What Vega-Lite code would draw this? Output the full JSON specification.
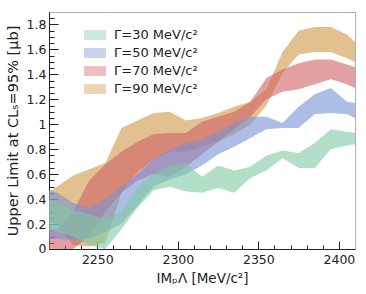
{
  "$schema": "https://vega.github.io/schema/vega-lite/v6.json",
  "width": 306,
  "height": 237,
  "autosize": {"type": "none"},
  "padding": {"left": 49, "top": 12, "right": 11, "bottom": 45},
  "config": {
    "font": "DejaVu Sans",
    "view": {"stroke": "#b0b0b0", "strokeWidth": 1},
    "axis": {"grid": false, "domainColor": "#222", "tickColor": "#222", "labelColor": "#222", "titleColor": "#222", "labelFontSize": 12.5, "titleFontSize": 13.5, "titleFontWeight": "normal", "labelFont": "DejaVu Sans", "titleFont": "DejaVu Sans"}
  },
  "datasets": {
    "bands": [
      {"g": "Γ=90 MeV/c²", "x": 2220, "lo": 0.22, "hi": 0.46},
      {"g": "Γ=90 MeV/c²", "x": 2225, "lo": 0.20, "hi": 0.50},
      {"g": "Γ=90 MeV/c²", "x": 2235, "lo": 0.03, "hi": 0.59},
      {"g": "Γ=90 MeV/c²", "x": 2245, "lo": 0.02, "hi": 0.64},
      {"g": "Γ=90 MeV/c²", "x": 2255, "lo": 0.05, "hi": 0.69},
      {"g": "Γ=90 MeV/c²", "x": 2265, "lo": 0.45, "hi": 0.97},
      {"g": "Γ=90 MeV/c²", "x": 2275, "lo": 0.62, "hi": 1.03},
      {"g": "Γ=90 MeV/c²", "x": 2285, "lo": 0.72, "hi": 1.09},
      {"g": "Γ=90 MeV/c²", "x": 2295, "lo": 0.78, "hi": 1.10},
      {"g": "Γ=90 MeV/c²", "x": 2305, "lo": 0.78, "hi": 1.03},
      {"g": "Γ=90 MeV/c²", "x": 2315, "lo": 0.82, "hi": 1.05},
      {"g": "Γ=90 MeV/c²", "x": 2325, "lo": 0.86, "hi": 1.09},
      {"g": "Γ=90 MeV/c²", "x": 2335, "lo": 0.92, "hi": 1.14},
      {"g": "Γ=90 MeV/c²", "x": 2345, "lo": 1.00, "hi": 1.18},
      {"g": "Γ=90 MeV/c²", "x": 2355, "lo": 1.15, "hi": 1.28},
      {"g": "Γ=90 MeV/c²", "x": 2365, "lo": 1.41, "hi": 1.58},
      {"g": "Γ=90 MeV/c²", "x": 2375, "lo": 1.56, "hi": 1.75},
      {"g": "Γ=90 MeV/c²", "x": 2385, "lo": 1.58, "hi": 1.78},
      {"g": "Γ=90 MeV/c²", "x": 2395, "lo": 1.58, "hi": 1.78},
      {"g": "Γ=90 MeV/c²", "x": 2405, "lo": 1.53, "hi": 1.72},
      {"g": "Γ=90 MeV/c²", "x": 2410, "lo": 1.50, "hi": 1.66},
      {"g": "Γ=70 MeV/c²", "x": 2220, "lo": 0.00, "hi": 0.15},
      {"g": "Γ=70 MeV/c²", "x": 2225, "lo": 0.00, "hi": 0.16},
      {"g": "Γ=70 MeV/c²", "x": 2235, "lo": 0.00, "hi": 0.30},
      {"g": "Γ=70 MeV/c²", "x": 2245, "lo": 0.10, "hi": 0.55},
      {"g": "Γ=70 MeV/c²", "x": 2255, "lo": 0.30, "hi": 0.68},
      {"g": "Γ=70 MeV/c²", "x": 2265, "lo": 0.45, "hi": 0.78},
      {"g": "Γ=70 MeV/c²", "x": 2275, "lo": 0.55, "hi": 0.86},
      {"g": "Γ=70 MeV/c²", "x": 2285, "lo": 0.60, "hi": 0.92},
      {"g": "Γ=70 MeV/c²", "x": 2295, "lo": 0.58, "hi": 0.93},
      {"g": "Γ=70 MeV/c²", "x": 2305, "lo": 0.66, "hi": 0.93},
      {"g": "Γ=70 MeV/c²", "x": 2315, "lo": 0.76, "hi": 1.02},
      {"g": "Γ=70 MeV/c²", "x": 2325, "lo": 0.86, "hi": 1.06},
      {"g": "Γ=70 MeV/c²", "x": 2335, "lo": 0.96, "hi": 1.10},
      {"g": "Γ=70 MeV/c²", "x": 2345, "lo": 1.06, "hi": 1.18},
      {"g": "Γ=70 MeV/c²", "x": 2355, "lo": 1.20, "hi": 1.37},
      {"g": "Γ=70 MeV/c²", "x": 2365, "lo": 1.26, "hi": 1.44},
      {"g": "Γ=70 MeV/c²", "x": 2375, "lo": 1.28, "hi": 1.49},
      {"g": "Γ=70 MeV/c²", "x": 2385, "lo": 1.32, "hi": 1.52},
      {"g": "Γ=70 MeV/c²", "x": 2395, "lo": 1.36, "hi": 1.52},
      {"g": "Γ=70 MeV/c²", "x": 2405, "lo": 1.32, "hi": 1.48},
      {"g": "Γ=70 MeV/c²", "x": 2410, "lo": 1.29, "hi": 1.46},
      {"g": "Γ=50 MeV/c²", "x": 2220, "lo": 0.08, "hi": 0.47},
      {"g": "Γ=50 MeV/c²", "x": 2225, "lo": 0.08, "hi": 0.45},
      {"g": "Γ=50 MeV/c²", "x": 2235, "lo": 0.07, "hi": 0.37},
      {"g": "Γ=50 MeV/c²", "x": 2245, "lo": 0.08, "hi": 0.33},
      {"g": "Γ=50 MeV/c²", "x": 2255, "lo": 0.14, "hi": 0.40},
      {"g": "Γ=50 MeV/c²", "x": 2265, "lo": 0.20, "hi": 0.50},
      {"g": "Γ=50 MeV/c²", "x": 2275, "lo": 0.35, "hi": 0.60},
      {"g": "Γ=50 MeV/c²", "x": 2285, "lo": 0.50, "hi": 0.72},
      {"g": "Γ=50 MeV/c²", "x": 2295, "lo": 0.56, "hi": 0.80},
      {"g": "Γ=50 MeV/c²", "x": 2305, "lo": 0.60, "hi": 0.85},
      {"g": "Γ=50 MeV/c²", "x": 2315, "lo": 0.67, "hi": 0.88},
      {"g": "Γ=50 MeV/c²", "x": 2325, "lo": 0.76, "hi": 0.94},
      {"g": "Γ=50 MeV/c²", "x": 2335, "lo": 0.82, "hi": 1.01},
      {"g": "Γ=50 MeV/c²", "x": 2345, "lo": 0.89, "hi": 1.06},
      {"g": "Γ=50 MeV/c²", "x": 2355, "lo": 0.96, "hi": 1.06},
      {"g": "Γ=50 MeV/c²", "x": 2365, "lo": 0.97, "hi": 1.01},
      {"g": "Γ=50 MeV/c²", "x": 2375, "lo": 0.97, "hi": 1.14},
      {"g": "Γ=50 MeV/c²", "x": 2385, "lo": 1.08, "hi": 1.24},
      {"g": "Γ=50 MeV/c²", "x": 2395, "lo": 1.09, "hi": 1.29},
      {"g": "Γ=50 MeV/c²", "x": 2405, "lo": 1.08, "hi": 1.18},
      {"g": "Γ=50 MeV/c²", "x": 2410, "lo": 1.05, "hi": 1.17},
      {"g": "Γ=30 MeV/c²", "x": 2220, "lo": 0.15, "hi": 0.39},
      {"g": "Γ=30 MeV/c²", "x": 2225, "lo": 0.14, "hi": 0.37},
      {"g": "Γ=30 MeV/c²", "x": 2235, "lo": 0.10, "hi": 0.31},
      {"g": "Γ=30 MeV/c²", "x": 2245, "lo": 0.03, "hi": 0.28},
      {"g": "Γ=30 MeV/c²", "x": 2255, "lo": 0.00, "hi": 0.24},
      {"g": "Γ=30 MeV/c²", "x": 2265, "lo": 0.16, "hi": 0.30},
      {"g": "Γ=30 MeV/c²", "x": 2275, "lo": 0.33, "hi": 0.50},
      {"g": "Γ=30 MeV/c²", "x": 2285, "lo": 0.47, "hi": 0.60},
      {"g": "Γ=30 MeV/c²", "x": 2295, "lo": 0.50, "hi": 0.67},
      {"g": "Γ=30 MeV/c²", "x": 2305, "lo": 0.46, "hi": 0.69},
      {"g": "Γ=30 MeV/c²", "x": 2315, "lo": 0.45, "hi": 0.58},
      {"g": "Γ=30 MeV/c²", "x": 2325, "lo": 0.49, "hi": 0.67},
      {"g": "Γ=30 MeV/c²", "x": 2335, "lo": 0.45, "hi": 0.63},
      {"g": "Γ=30 MeV/c²", "x": 2345, "lo": 0.57, "hi": 0.66},
      {"g": "Γ=30 MeV/c²", "x": 2355, "lo": 0.63, "hi": 0.75},
      {"g": "Γ=30 MeV/c²", "x": 2365, "lo": 0.73, "hi": 0.79},
      {"g": "Γ=30 MeV/c²", "x": 2375, "lo": 0.65, "hi": 0.77},
      {"g": "Γ=30 MeV/c²", "x": 2385, "lo": 0.65, "hi": 0.85},
      {"g": "Γ=30 MeV/c²", "x": 2395, "lo": 0.80, "hi": 0.96},
      {"g": "Γ=30 MeV/c²", "x": 2405, "lo": 0.83, "hi": 0.94},
      {"g": "Γ=30 MeV/c²", "x": 2410, "lo": 0.84, "hi": 0.93}
    ]
  },
  "data": {"name": "bands"},
  "layer": [
    {
      "mark": {"type": "area", "opacity": 0.6, "interpolate": "linear"},
      "encoding": {
        "x": {"field": "x", "type": "quantitative", "scale": {"domain": [2220, 2410], "nice": false, "zero": false},
          "axis": {"orient": "bottom", "values": [2250, 2300, 2350, 2400], "format": "d", "tickSize": -8, "labelPadding": 12, "title": "IMₚΛ [MeV/c²]", "titlePadding": 6, "labelFlush": false}},
        "y": {"field": "lo", "type": "quantitative", "scale": {"domain": [0, 1.9], "nice": false, "zero": false},
          "axis": {"orient": "left", "values": [0.0001, 0.2, 0.4, 0.6, 0.8, 1, 1.2, 1.4, 1.6, 1.8], "labelExpr": "datum.value < 0.01 ? '0' : format(datum.value, '~g')", "tickSize": -9, "labelPadding": 12, "title": "Upper Limit at CLₛ=95% [μb]", "titleFontSize": 14.5, "titlePadding": 6, "labelFlush": false, "labelBound": false, "labelOverlap": false}},
        "y2": {"field": "hi"},
        "color": {"field": "g", "type": "nominal",
          "scale": {"domain": ["Γ=30 MeV/c²", "Γ=50 MeV/c²", "Γ=70 MeV/c²", "Γ=90 MeV/c²"], "range": ["#7fcaa3", "#7891d5", "#d06166", "#cf9644"]},
          "legend": {"orient": "none", "legendX": 35, "legendY": 12, "title": null, "padding": 0, "symbolType": "M-1,-0.45H1V0.45H-1Z", "symbolSize": 484, "symbolOpacity": 0.4, "symbolStrokeWidth": 0, "labelFontSize": 13, "labelOffset": 8, "rowPadding": -2, "labelColor": "#222", "labelFont": "DejaVu Sans"}}
      }
    },
    {
      "mark": {"type": "area", "opacity": 0},
      "encoding": {
        "x": {"field": "x", "type": "quantitative",
          "axis": {"orient": "bottom", "values": [2230, 2240, 2260, 2270, 2280, 2290, 2310, 2320, 2330, 2340, 2360, 2370, 2380, 2390], "tickSize": -4, "labels": false, "domain": false, "title": null}},
        "y": {"field": "lo", "type": "quantitative",
          "axis": {"orient": "left", "values": [0.05, 0.1, 0.15, 0.25, 0.3, 0.35, 0.45, 0.5, 0.55, 0.65, 0.7, 0.75, 0.85, 0.9, 0.95, 1.05, 1.1, 1.15, 1.25, 1.3, 1.35, 1.45, 1.5, 1.55, 1.65, 1.7, 1.75, 1.85], "tickSize": -5, "labels": false, "domain": false, "title": null}},
        "y2": {"field": "hi"}
      }
    }
  ],
  "resolve": {"axis": {"x": "independent", "y": "independent"}}
}
